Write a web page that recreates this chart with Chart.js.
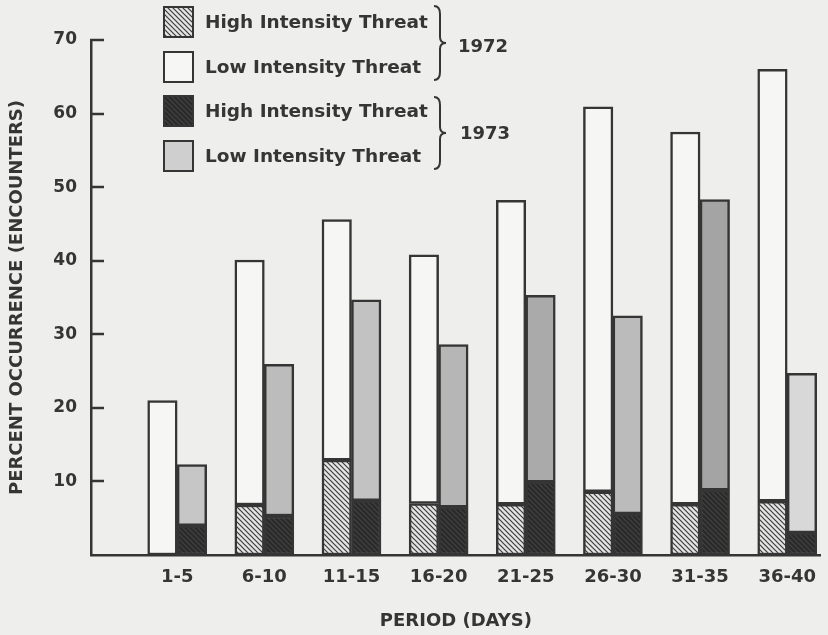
<!DOCTYPE html>
<html>
<head>
<meta charset="utf-8">
<script src="https://cdn.jsdelivr.net/npm/chart.js@4.4.1/dist/chart.umd.min.js"></script>
<style>
  html, body { margin: 0; padding: 0; background: #eeeeec; overflow: hidden; }
  canvas { display: block; }
</style>
</head>
<body>
<canvas id="chart" width="828" height="635"></canvas>
<script>
// data (percent occurrence of encounters)
const periods = ['1-5', '6-10', '11-15', '16-20', '21-25', '26-30', '31-35', '36-40'];
const high1972 = [0, 6.8, 12.9, 7.0, 6.9, 8.6, 6.9, 7.3];
const low1972 = [21.0, 33.3, 32.7, 33.8, 41.3, 52.3, 50.6, 58.7];
const high1973 = [4.0, 5.3, 7.4, 6.5, 9.9, 5.6, 8.8, 3.0];
const low1973 = [8.3, 20.6, 27.3, 22.1, 25.4, 26.9, 39.5, 21.7];
const yTicks = [0, 10, 20, 30, 40, 50, 60, 70];

const ink = '#353535';
const font = '"DejaVu Sans", sans-serif';
// shade of the stippled 1973 bars varies in the print
const grays1973 = ['#c6c6c6', '#bcbcbc', '#c2c2c2', '#b6b6b6', '#aaaaaa', '#bbbbbb', '#a4a4a4', '#d8d8d8'];

function hatch(bg, line) {
    const c = document.createElement('canvas');
    c.width = c.height = 5;
    const g = c.getContext('2d');
    g.fillStyle = bg;
    g.fillRect(0, 0, 5, 5);
    g.strokeStyle = line;
    g.lineWidth = 1.2;
    g.beginPath();
    g.moveTo(-1, -1); g.lineTo(6, 6);
    g.moveTo(-1, 4); g.lineTo(1, 6);
    g.moveTo(4, -1); g.lineTo(6, 1);
    g.stroke();
    return g.createPattern(c, 'repeat');
}
const ctx0 = document.getElementById('chart').getContext('2d');
const hatch72 = hatch('#e4e4e4', '#3c3c3c');
const dark73 = hatch('#2a2a2a', '#444444');

const pts = arr => arr.map((v, i) => ({ x: i, y: v }));

// inward y ticks, legend with braces
const decor = {
    id: 'decor',
    afterDraw(chart) {
        const ctx = chart.ctx;
        const y = chart.scales.y;
        const left = chart.chartArea.left;
        ctx.save();
        ctx.strokeStyle = ink;
        ctx.lineWidth = 2.5;
        yTicks.forEach(v => {
            if (v === 0) return;
            const py = Math.round(y.getPixelForValue(v));
            ctx.beginPath();
            ctx.moveTo(left - 1, py);
            ctx.lineTo(left + 13, py);
            ctx.stroke();
        });

        const items = [
            { fill: hatch72, text: 'High Intensity Threat', y: 7 },
            { fill: '#f6f6f4', text: 'Low Intensity Threat', y: 52 },
            { fill: dark73, text: 'High Intensity Threat', y: 96 },
            { fill: '#cfcfcf', text: 'Low Intensity Threat', y: 141 }
        ];
        ctx.font = 'bold 18.5px ' + font;
        ctx.textBaseline = 'middle';
        ctx.textAlign = 'left';
        items.forEach(it => {
            ctx.fillStyle = it.fill;
            ctx.fillRect(164, it.y, 29, 30);
            ctx.lineWidth = 2;
            ctx.strokeStyle = ink;
            ctx.strokeRect(164, it.y, 29, 30);
            ctx.fillStyle = ink;
            ctx.fillText(it.text, 205, it.y + 16);
        });

        function brace(x, y0, y1) {
            const m = (y0 + y1) / 2;
            ctx.beginPath();
            ctx.moveTo(x, y0);
            ctx.quadraticCurveTo(x + 6, y0, x + 6, y0 + 8);
            ctx.lineTo(x + 6, m - 6);
            ctx.quadraticCurveTo(x + 6, m, x + 12, m);
            ctx.quadraticCurveTo(x + 6, m, x + 6, m + 6);
            ctx.lineTo(x + 6, y1 - 8);
            ctx.quadraticCurveTo(x + 6, y1, x, y1);
            ctx.stroke();
        }
        ctx.lineWidth = 2;
        brace(434, 6, 80);
        brace(434, 97, 169);
        ctx.font = 'bold 18px ' + font;
        ctx.fillText('1972', 458, 47);
        ctx.fillText('1973', 460, 134);
        ctx.restore();
    }
};

new Chart(ctx0, {
    type: 'bar',
    data: {
        datasets: [
            { label: 'High Intensity Threat 1972', data: pts(high1972), stack: '1972', backgroundColor: hatch72 },
            { label: 'Low Intensity Threat 1972', data: pts(low1972), stack: '1972', backgroundColor: '#f6f6f4' },
            { label: 'High Intensity Threat 1973', data: pts(high1973), stack: '1973', backgroundColor: dark73 },
            { label: 'Low Intensity Threat 1973', data: pts(low1973), stack: '1973', backgroundColor: grays1973 }
        ]
    },
    options: {
        responsive: false,
        animation: false,
        devicePixelRatio: 1,
        barThickness: 29.5,
        borderColor: ink,
        borderWidth: 2.5,
        borderSkipped: false,
        layout: { padding: { top: 40, right: 0, left: 0, bottom: 0 } },
        plugins: {
            legend: { display: false },
            tooltip: { enabled: false }
        },
        scales: {
            x: {
                type: 'linear',
                offset: false,
                min: -0.989,
                max: 7.386,
                afterFit: s => { s.height = 80; },
                afterBuildTicks: s => { s.ticks = periods.map((_, i) => ({ value: i })); },
                grid: { display: false, drawTicks: false },
                border: { display: true, color: ink, width: 2.5 },
                ticks: {
                    autoSkip: false,
                    maxRotation: 0,
                    padding: 12,
                    color: ink,
                    font: { family: font, size: 18, weight: 'bold' },
                    callback: v => periods[v]
                },
                title: {
                    display: true,
                    text: 'PERIOD (DAYS)',
                    color: ink,
                    font: { family: font, size: 18, weight: 'bold' },
                    padding: { top: 0, bottom: 3 }
                }
            },
            y: {
                min: 0,
                max: 70,
                stacked: true,
                afterFit: s => { s.width = 91; },
                afterBuildTicks: s => { s.ticks = yTicks.map(v => ({ value: v })); },
                grid: { display: false, drawTicks: false },
                border: { display: true, color: ink, width: 2.5 },
                ticks: {
                    padding: 14,
                    color: ink,
                    font: { family: font, size: 17, weight: 'bold' },
                    callback: v => (v === 0 ? '' : v)
                },
                title: {
                    display: true,
                    text: 'PERCENT OCCURRENCE (ENCOUNTERS)',
                    color: ink,
                    font: { family: font, size: 18, weight: 'bold' },
                    padding: { top: 7, bottom: 0 }
                }
            }
        }
    },
    plugins: [decor]
});
</script>
</body>
</html>
